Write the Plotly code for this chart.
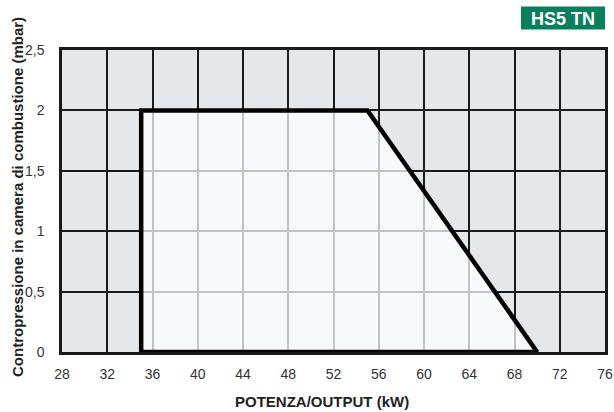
import plotly.graph_objects as go

# Data
x_ticks = [28, 32, 36, 40, 44, 48, 52, 56, 60, 64, 68, 72, 76]
y_ticks = [0, 0.5, 1, 1.5, 2, 2.5]
y_tick_labels = ["0", "0,5", "1", "1,5", "2", "2,5"]
field_x = [35, 35, 55, 70, 35]
field_y = [0, 2, 2, 0, 0]

font_family = "Liberation Sans, Arial, sans-serif"

FW, FH = 614, 412
L, R, T, B = 62, 605, 50, 352
W, H = R - L, B - T

def px(x):
    return (x - L) / W

def py(y):
    return (B - y) / H

fig = go.Figure()
fig.add_trace(go.Scatter(
    x=field_x, y=field_y, mode="lines", fill="toself",
    fillcolor="rgba(255,255,255,0.74)",
    line=dict(color="#000000", width=4.5),
    hoverinfo="skip", showlegend=False,
))

fig.update_layout(
    width=FW, height=FH,
    margin=dict(l=L, r=FW - R, t=T, b=FH - B, autoexpand=False),
    paper_bgcolor="white",
    plot_bgcolor="#e4e8eb",
    font=dict(family=font_family, size=14, color="#333333"),
    xaxis=dict(
        range=[28, 76], tickvals=x_ticks, ticktext=[str(v) for v in x_ticks],
        showgrid=True, gridcolor="#1a1a1a", gridwidth=2,
        zeroline=False, showline=True, linecolor="#1a1a1a", linewidth=2.5, mirror=True,
        ticks="outside", ticklen=7, tickcolor="rgba(0,0,0,0)",
        tickfont=dict(size=14, color="#333333"),
        automargin=False, fixedrange=True,
    ),
    yaxis=dict(
        range=[0, 2.5], tickvals=y_ticks, ticktext=y_tick_labels,
        showgrid=True, gridcolor="#1a1a1a", gridwidth=2,
        zeroline=False, showline=True, linecolor="#1a1a1a", linewidth=2.5, mirror=True,
        ticks="outside", ticklen=12, tickcolor="rgba(0,0,0,0)",
        tickfont=dict(size=14, color="#333333"),
        automargin=False, fixedrange=True,
    ),
    shapes=[dict(type="rect", xref="paper", yref="paper",
                 x0=px(521), x1=px(605), y0=py(29.5), y1=py(6.5),
                 fillcolor="#0a7f5e", line=dict(width=0), layer="above")],
    annotations=[
        dict(text="<b>HS5 TN</b>", xref="paper", yref="paper",
             x=px(563), y=py(18.5), showarrow=False,
             font=dict(size=18, color="white", family=font_family),
             xanchor="center", yanchor="middle"),
        dict(text="<b>POTENZA/OUTPUT (kW)</b>", xref="paper", yref="paper",
             x=px(322), y=py(401), showarrow=False,
             font=dict(size=15, color="#222222", family=font_family),
             xanchor="center", yanchor="middle"),
        dict(text="<b>Contropressione in camera di combustione (mbar)</b>", xref="paper", yref="paper",
             x=px(17), y=py(197), showarrow=False, textangle=-90,
             font=dict(size=15, color="#222222", family=font_family),
             xanchor="center", yanchor="middle"),
    ],
)

fig.write_html("out.html", config={"displayModeBar": False},
               post_script="document.body.style.margin='0px';")
